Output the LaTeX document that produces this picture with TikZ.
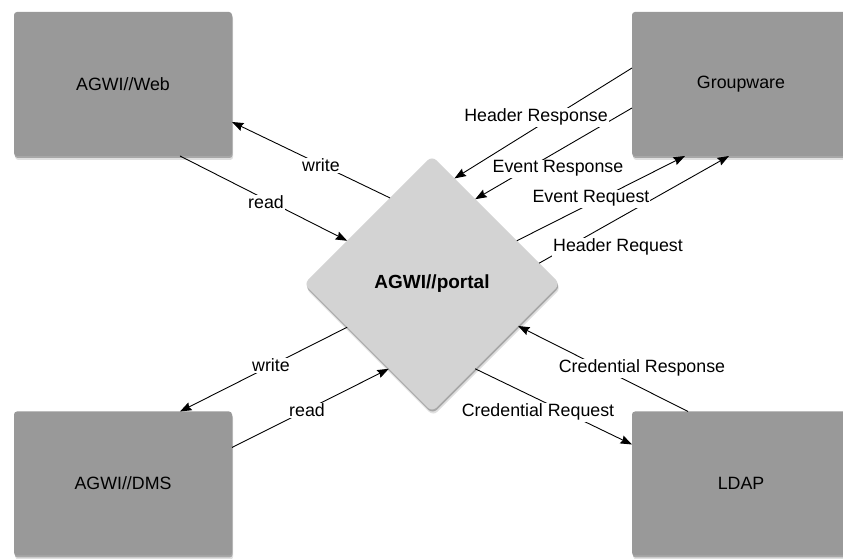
\documentclass[tikz,border=0pt]{standalone}
\usepackage{fontspec}
\setmainfont{Liberation Sans}
\usetikzlibrary{shapes.geometric,arrows.meta,shadows}
\definecolor{boxgray}{HTML}{999999}
\definecolor{diagray}{HTML}{D3D3D3}
\begin{document}
\begin{tikzpicture}[x=1pt,y=1pt,
  font=\fontsize{17.8}{21}\selectfont,
  softshadow/.style={drop shadow={shadow xshift=0.6pt,shadow yshift=-2pt,opacity=0.25,fill=black},
                     drop shadow={shadow xshift=1.2pt,shadow yshift=-4pt,opacity=0.12,fill=black}},
  sysbox/.style={rectangle, fill=boxgray, rounded corners=3pt, minimum width=218pt, minimum height=144pt, outer sep=0pt, inner sep=0pt, softshadow},
  hub/.style={diamond, fill=diagray, rounded corners=6pt, minimum size=256pt, aspect=1, inner sep=0pt, outer sep=0pt, softshadow, font=\fontsize{19}{22}\selectfont\bfseries},
  flow/.style={line width=0.9pt, -{Stealth[length=11.5pt,width=8.5pt,inset=1.5pt]}},
  lbl/.style={fill=white, inner sep=1pt, anchor=base}
]
\clip (0,0) rectangle (843,559);
\fill[white] (0,0) rectangle (843,559);

\node[sysbox] (web)  at (123,475)  {AGWI//Web};
\node[sysbox] (grp)  at (741,475)  {Groupware};
\node[sysbox] (dms)  at (123,75.5) {AGWI//DMS};
\node[sysbox] (ldap) at (741,75.5) {LDAP};
\node[hub]    (portal) at (432,275) {AGWI//portal};

\draw[flow] (portal.116) -- ([yshift=-38pt]web.east);
\draw[flow] ([xshift=57pt]web.south) -- (portal.153);
\draw[flow] ([yshift=-24pt]grp.west) -- (portal.63);
\draw[flow] ([yshift=16pt]grp.west) -- (portal.78);
\draw[flow] (portal.27) -- ([xshift=-56pt]grp.south);
\draw[flow] (portal.11) -- ([xshift=-12pt]grp.south);
\draw[flow] (portal.207) -- ([xshift=57pt]dms.north);
\draw[flow] ([yshift=36pt]dms.east) -- (portal.243);
\draw[flow] ([xshift=-53pt]ldap.north) -- (portal.334);
\draw[flow] (portal.297) -- ([yshift=39pt]ldap.west);

\node[lbl] (l1)  at (321,387) {write};
\node[lbl] (l2)  at (266,350) {read};
\node[lbl] (l3)  at (536,437) {Header Response};
\node[lbl] (l4)  at (558,386) {Event Response};
\node[lbl] (l5)  at (591,356) {Event Request};
\node[lbl] (l6)  at (618,307) {Header Request};
\node[lbl] (l7)  at (271,187) {write};
\node[lbl] (l8)  at (307,142) {read};
\node[lbl] (l9)  at (642,186) {Credential Response};
\node[lbl] (l10) at (538,142) {Credential Request};
\end{tikzpicture}
\end{document}
